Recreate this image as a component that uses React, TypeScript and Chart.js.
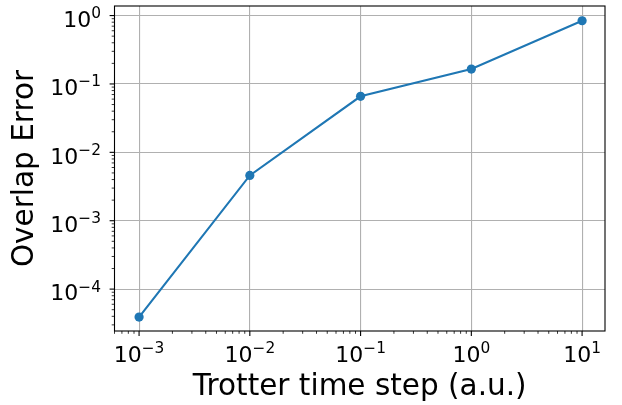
import React, { useEffect, useRef } from "react";
import { Chart, registerables } from "chart.js";

Chart.register(...registerables);

const timeSteps = [1e-3, 1e-2, 1e-1, 1e0, 1e1];
const overlapError = [3.9e-5, 4.6e-3, 6.6e-2, 0.165, 0.84];
const xTitle = "Trotter time step (a.u.)";
const yTitle = "Overlap Error";
const xRange = [6.3e-4, 16.1];
const yRange = [2.44e-5, 1.38];

const FONT = "'DejaVu Sans', sans-serif";
const TICK_SIZE = 22;
const TITLE_SIZE = 29.5;

function logTicks(min: number, max: number) {
  const ticks: { value: number; major: boolean }[] = [];
  for (let e = Math.floor(Math.log10(min)); e <= Math.ceil(Math.log10(max)); e++) {
    for (let m = 1; m <= 9; m++) {
      const v = m * Math.pow(10, e);
      if (v >= min && v <= max) ticks.push({ value: v, major: m === 1 });
    }
  }
  return ticks;
}

function exponentOf(v: number) {
  const e = Math.round(Math.log10(v));
  return String(e).replace("-", "\u2212");
}

function drawPow(ctx: any, exp: string, x: number, baseline: number, align: "center" | "right") {
  const baseFont = `${TICK_SIZE}px ${FONT}`;
  const expFont = `${TICK_SIZE * 0.7}px ${FONT}`;
  ctx.font = baseFont;
  const wb = ctx.measureText("10").width;
  ctx.font = expFont;
  const we = ctx.measureText(exp).width;
  const total = wb + we;
  const start = align === "center" ? x - total / 2 : x - total;
  ctx.textAlign = "left";
  ctx.textBaseline = "alphabetic";
  ctx.fillStyle = "#000";
  ctx.font = baseFont;
  ctx.fillText("10", start, baseline);
  ctx.font = expFont;
  ctx.fillText(exp, start + wb, baseline - TICK_SIZE * 0.4);
}

const tickPlugin = {
  id: "mplTicks",
  afterDraw(chart: any) {
    const ctx = chart.ctx;
    const a = chart.chartArea;
    ctx.save();
    ctx.strokeStyle = "#000";
    const xs = chart.scales.x;
    for (const t of xs.ticks) {
      const p = xs.getPixelForValue(t.value);
      ctx.lineWidth = t.major ? 1.1 : 0.8;
      ctx.beginPath();
      ctx.moveTo(p, a.bottom);
      ctx.lineTo(p, a.bottom + (t.major ? 4.9 : 2.8));
      ctx.stroke();
      if (t.major) drawPow(ctx, exponentOf(t.value), p, a.bottom + 30.7, "center");
    }
    const ys = chart.scales.y;
    for (const t of ys.ticks) {
      const p = ys.getPixelForValue(t.value);
      ctx.lineWidth = t.major ? 1.1 : 0.8;
      ctx.beginPath();
      ctx.moveTo(a.left, p);
      ctx.lineTo(a.left - (t.major ? 4.9 : 2.8), p);
      ctx.stroke();
      if (t.major) drawPow(ctx, exponentOf(t.value), a.left - 13.5, p + 11.2, "right");
    }
    ctx.lineWidth = 1.1;
    ctx.strokeRect(a.left, a.top, a.right - a.left, a.bottom - a.top);
    ctx.restore();
  },
};

export default function App() {
  const ref = useRef<HTMLCanvasElement>(null);
  useEffect(() => {
    document.body.style.margin = "0";
    const chart = new Chart(ref.current!, {
      type: "line",
      data: {
        datasets: [
          {
            data: timeSteps.map((x, i) => ({ x, y: overlapError[i] })),
            borderColor: "#1f77b4",
            backgroundColor: "#1f77b4",
            borderWidth: 2.1,
            pointRadius: 4.6,
            pointBorderWidth: 0,
            pointHoverRadius: 4.6,
            fill: false,
            tension: 0,
          },
        ],
      },
      options: {
        animation: false,
        responsive: false,
        devicePixelRatio: 1,
        layout: { padding: { top: 6, right: 17, left: 0, bottom: 0 } },
        plugins: { legend: { display: false }, tooltip: { enabled: false } },
        scales: {
          x: {
            type: "logarithmic",
            min: xRange[0],
            max: xRange[1],
            afterBuildTicks: (s: any) => { s.ticks = logTicks(s.min, s.max); },
            afterFit: (s: any) => {
              s.height = 74;
              s.paddingLeft = 0;
              s.paddingRight = 0;
            },
            grid: {
              color: (c: any) => (c.tick && c.tick.major ? "#b0b0b0" : "rgba(0,0,0,0)"),
              lineWidth: 1.1,
              drawTicks: false,
            },
            border: { display: false },
            ticks: { display: false },
            title: {
              display: true,
              text: xTitle,
              color: "#000",
              font: { family: FONT, size: TITLE_SIZE },
              padding: { top: 0, bottom: 0 },
            },
          },
          y: {
            type: "logarithmic",
            min: yRange[0],
            max: yRange[1],
            afterBuildTicks: (s: any) => { s.ticks = logTicks(s.min, s.max); },
            afterFit: (s: any) => {
              s.width = 114.5;
              s.paddingTop = 0;
              s.paddingBottom = 0;
            },
            grid: {
              color: (c: any) => (c.tick && c.tick.major ? "#b0b0b0" : "rgba(0,0,0,0)"),
              lineWidth: 1.1,
              drawTicks: false,
            },
            border: { display: false },
            ticks: { display: false },
            title: {
              display: true,
              text: yTitle,
              color: "#000",
              font: { family: FONT, size: TITLE_SIZE },
              padding: { top: 8, bottom: 0 },
            },
          },
        },
      },
      plugins: [tickPlugin],
    });
    return () => chart.destroy();
  }, []);
  return <canvas ref={ref} width={622} height={405} style={{ display: "block" }} />;
}
